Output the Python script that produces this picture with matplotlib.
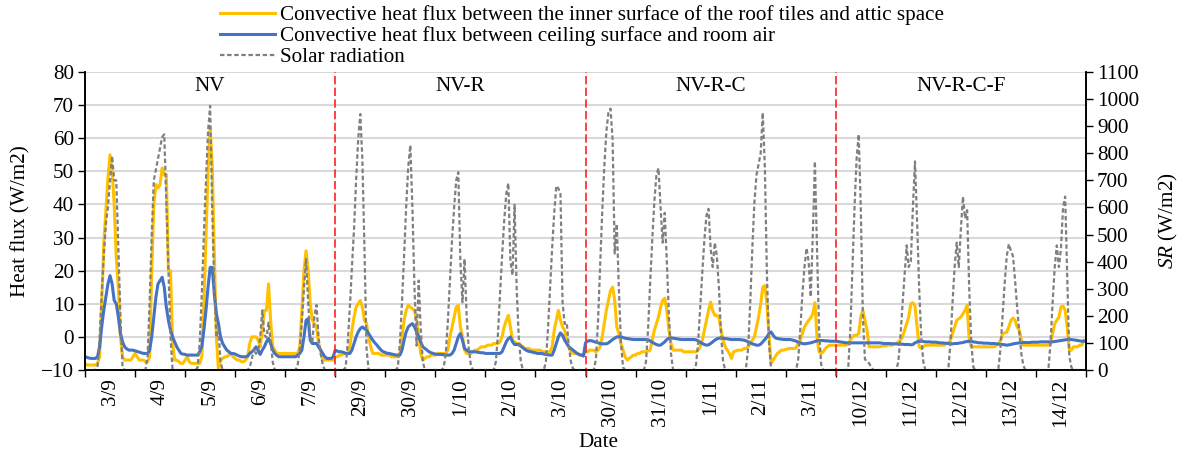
import numpy as np
import matplotlib.pyplot as plt
from matplotlib.ticker import FixedLocator

# day labels (x axis), one per 24 h block
dates = ['3/9', '4/9', '5/9', '6/9', '7/9',
         '29/9', '30/9', '1/10', '2/10', '3/10',
         '30/10', '31/10', '1/11', '2/11', '3/11',
         '10/12', '11/12', '12/12', '13/12', '14/12']
periods = ['NV', 'NV-R', 'NV-R-C', 'NV-R-C-F']

# hourly convective heat flux, roof tiles inner surface <-> attic (W/m2)
roof = [
    -8, -8.5, -8.5, -8.5, -8.5, -8.5, -8, -6, 10, 28, 38, 48, 55, 50, 40, 24, 15, 0, -6, -7, -7, -7, -7, -6,
    -5, -6, -7, -7, -7, -7.5, -7.5, -6, 20, 40, 46, 45, 46, 51, 49, 49, 20, 20, -2, -7, -7, -7.5, -8, -8,
    -7, -6, -7.5, -8, -8, -8, -8, -8, -6, 10, 30, 50, 63, 52, 25, 0, -10, -7, -6.5, -6, -6, -5.5, -5, -6,
    -6.5, -7, -7, -7.5, -7.5, -7, -6, -2, 0, 0, 0, -1, -3, 2, 8, 8, 16, 5, -3, -4, -5, -5, -5, -5,
    -5, -5, -5, -5, -5, -5, -5, -3, 8, 20, 26, 20, 10, 5, 4, 3, -2, -4, -7, -7, -7, -7, -7, -7,
    -6, -6, -5.5, -5.5, -5, -5, -5, -3, 2, 6, 9, 10, 11, 9, 5, 4, 0, -3, -5, -5, -5, -5, -5.5, -5.5,
    -5.5, -5.5, -5.5, -6, -6, -6, -6, -5, 0, 5, 8, 9.5, 9, 8.5, 8, 5, 0, -5, -7, -6.5, -6, -6, -5.5, -5.5,
    -5.5, -5, -5, -5, -5, -5, -4, 0, 3, 6, 9, 9.5, 3, 0, -4, -5, -5, -5, -4.5, -4, -4, -3.5, -3, -3,
    -3, -2.5, -2.5, -2.5, -2, -2, -2, -1.5, 0, 3, 5, 6.5, 3, -1, -1.5, -2, -2, -2.5, -3, -3.5, -3.5, -3.5, -4, -4,
    -4, -4, -4, -4.3, -4.5, -4.5, -4.5, -4.5, -3, 2, 5, 8, 5, 3, 2, -1, -3, -4.5, -5, -5, -5, -5.5, -5.5, -5.5,
    -4.5, -4.5, -4, -4, -4, -4.5, -4, -3, 0, 4, 8, 11, 14, 15, 11, 3, 1, -2, -4, -6, -7, -6.5, -6, -5.5,
    -5.5, -5, -5, -4.5, -4.5, -4.5, -4.3, -4, -1, 2, 4, 6, 9, 11, 11.7, 8, 2, -2, -4, -4, -4, -4, -4, -4.5,
    -4.5, -4.5, -4.5, -4.5, -4.5, -4.5, -4, -3, -1, 2, 5, 8, 10.5, 8, 6.5, 6.5, 6, 2, -1, -3, -4, -5, -6.5, -4.5,
    -4.3, -4, -4, -4, -3.5, -3.5, -3, -2, -1, 0, 3, 6, 10, 15, 15.5, 10, 0, -8, -7, -6, -5, -4.5, -4, -4,
    -3.8, -3.6, -3.5, -3.5, -3.5, -3.3, -2, -1, 1, 3, 4, 5, 5.7, 7, 10.3, 0, -4.5, -5, -4.5, -3.5, -3, -2.5, -2.5, -2.5,
    -2.5, -2.5, -2.5, -2.5, -2.5, -2.5, -2, -1, 0, 0.5, 0.5, 1, 6, 8, 5, 2, -3, -3, -3, -3, -3, -3, -2.8, -2.7,
    -2.7, -2.5, -2.5, -2.5, -2, -2, -1.5, -1, 0, 2, 4, 6, 10, 10.3, 9.3, 3, -3, -3.5, -3, -2.5, -2.5, -2.5, -2.5, -2.5,
    -2.5, -2.5, -2.5, -2.5, -2.5, -2, -2, -1, 1, 3, 5, 5.5, 6, 7, 8, 9.5, -1, -3, -3, -3, -3, -3, -3, -3,
    -3, -3, -3, -3, -3, -2.5, -2, -1, 1, 1.2, 1.4, 3, 5, 5.7, 5, 3, 2, -1, -2.5, -2.5, -2.5, -2.5, -2.5, -2.5,
    -2.5, -2.5, -2.5, -2.5, -2.5, -2.5, -2.5, -2, 1, 4, 5, 6, 9, 9.3, 8, 3, -4, -4, -3, -3, -3, -2.5, -2.5, -1,
]

# hourly convective heat flux, ceiling surface <-> room air (W/m2)
ceiling = [
    -6, -6.2, -6.4, -6.5, -6.5, -6.5, -6, -3, 3, 8, 12, 16, 18.5, 16, 11, 10, 6, 1, -1.5, -3, -3.6, -4, -4, -4,
    -4.2, -4.4, -4.6, -4.8, -5, -5, -5, -4, 0, 6, 12, 16, 17, 18, 15, 9, 5, 2, 0, -1.5, -3, -4, -5, -5.2,
    -5.3, -5.5, -5.5, -5.5, -5.5, -5.5, -5.5, -4.5, -3, 2, 8, 15, 21, 21, 13, 7, 4, 0, -2, -3, -4, -4.5, -5, -5,
    -5.2, -5.5, -5.8, -6, -6, -6, -5.8, -5, -4.5, -4, -3, -4, -5.3, -4, -3, -1.5, -0.5, -2, -4, -5, -5.6, -6, -6, -6,
    -6, -6, -6, -6, -6, -6, -5.5, -5, -4, 0, 5, 5.5, -1, -2, -2, -2, -3, -4, -5, -6, -6.5, -6.5, -6.5, -6,
    -4, -4.3, -4.5, -4.5, -4.7, -5, -5, -5, -4, -2, 0, 1.5, 2.5, 3, 2.5, 2, 1, 0, -1, -1.8, -2.5, -3.3, -4, -4.5,
    -4.7, -5, -5, -5.2, -5.3, -5.5, -5.5, -5.5, -4, -1, 1.5, 3, 3.6, 4, 3, 1.5, 0, -1.5, -3, -3.5, -4, -4.5, -4.8, -5,
    -5.2, -5.3, -5.3, -5.3, -5.4, -5.5, -5.5, -5.5, -5, -4, -2, 0, 1, -1, -3.5, -4, -4.4, -4.5, -4.5, -4.5, -4.6, -4.7, -4.8, -4.8,
    -5, -5, -5, -5, -5, -5, -5, -5, -4.5, -3, -1.5, -0.5, 0, -1.5, -2.3, -2.3, -2.3, -2.8, -3.3, -3.8, -4.2, -4.4, -4.5, -4.7,
    -4.8, -5, -5, -5, -5.2, -5.3, -5.4, -5.5, -5.5, -4, -2, 0, 1.2, 0.5, -1, -2, -3, -3.5, -4, -4.5, -5, -5.3, -5.5, -5.8,
    -1.8, -1.3, -1.1, -1.2, -1.4, -1.6, -1.8, -2, -2.1, -2.1, -2.1, -1.8, -1.3, -0.8, -0.4, 0, 0, 0, -0.2, -0.4, -0.5, -0.6, -0.7, -0.8,
    -0.8, -0.8, -0.8, -0.8, -0.8, -0.8, -0.9, -1.2, -1.6, -2, -2.3, -2.5, -2.5, -2, -1.5, -0.8, -0.4, -0.3, -0.4, -0.5, -0.6, -0.7, -0.8, -0.8,
    -0.8, -0.8, -0.8, -0.8, -0.8, -0.9, -1.2, -1.6, -2, -2.3, -2.5, -2.4, -2, -1.5, -1, -0.6, -0.4, -0.3, -0.4, -0.5, -0.6, -0.7, -0.8, -0.8,
    -0.8, -0.8, -0.8, -0.9, -1, -1.2, -1.5, -1.8, -2.1, -2.3, -2.5, -2.5, -2.2, -1.5, -0.8, 0, 1, 1.5, 0.5, -0.3, -0.5, -0.6, -0.7, -0.8,
    -0.8, -0.8, -0.8, -0.9, -1.1, -1.3, -1.6, -1.8, -2, -2.1, -2, -1.9, -1.8, -1.6, -1.4, -1.2, -1.1, -1.1, -1.1, -1.2, -1.2, -1.3, -1.3, -1.3,
    -1.3, -1.4, -1.5, -1.6, -1.7, -1.8, -1.8, -1.8, -1.8, -1.8, -1.8, -1.8, -1.8, -1.8, -1.8, -1.8, -1.8, -1.8, -1.8, -1.8, -1.8, -1.8, -1.9, -2,
    -2, -2, -2, -2.1, -2.1, -2.1, -2.2, -2.2, -2.2, -2.3, -2.3, -2.3, -2.4, -2.3, -1.8, -1.5, -1.3, -1.3, -1.4, -1.5, -1.5, -1.5, -1.6, -1.6,
    -1.6, -1.7, -1.8, -1.8, -1.9, -1.9, -2, -2.1, -2.1, -2, -2, -1.9, -1.8, -1.7, -1.5, -1.4, -1.3, -1.3, -1.5, -1.6, -1.7, -1.8, -1.8, -1.9,
    -1.9, -1.9, -2, -2, -2, -2.1, -2.2, -2.2, -2.3, -2.4, -2.5, -2.4, -2.3, -2.1, -2, -1.9, -1.8, -1.8, -1.7, -1.7, -1.7, -1.7, -1.6, -1.6,
    -1.6, -1.6, -1.5, -1.5, -1.5, -1.5, -1.5, -1.5, -1.5, -1.4, -1.3, -1.2, -1.1, -1, -0.9, -0.8, -0.8, -0.8, -0.9, -1, -1.1, -1.2, -1.3, -1.3,
]

# hourly solar radiation (W/m2)
solar = [
    0, 0, 0, 0, 0, 0, 10, 120, 280, 420, 540, 600, 700, 790, 700, 700, 450, 200, 10, 0, 0, 0, 0, 0,
    0, 0, 0, 0, 0, 0, 50, 250, 500, 700, 740, 780, 820, 860, 870, 620, 380, 120, 0, 0, 0, 0, 0, 0,
    0, 0, 0, 0, 0, 0, 10, 100, 280, 500, 700, 880, 975, 600, 300, 120, 150, 30, 0, 0, 0, 0, 0, 0,
    0, 0, 0, 0, 0, 0, 0, 10, 40, 80, 60, 70, 120, 220, 130, 120, 175, 110, 30, 0, 0, 0, 0, 0,
    0, 0, 0, 0, 0, 0, 20, 80, 180, 300, 410, 250, 120, 100, 200, 240, 120, 60, 20, 0, 0, 0, 0, 0,
    0, 0, 0, 0, 0, 10, 100, 230, 380, 520, 700, 850, 945, 780, 450, 80, 0, 0, 0, 0, 0, 0, 0, 0,
    0, 0, 0, 0, 0, 0, 10, 100, 250, 420, 600, 750, 830, 600, 300, 90, 330, 150, 30, 0, 0, 0, 0, 0,
    0, 0, 0, 0, 10, 60, 180, 330, 480, 600, 700, 730, 400, 250, 410, 200, 80, 20, 0, 0, 0, 0, 0, 0,
    0, 0, 0, 0, 0, 30, 130, 280, 420, 550, 650, 690, 400, 350, 610, 300, 120, 30, 0, 0, 0, 0, 0, 0,
    0, 0, 0, 0, 0, 30, 150, 300, 450, 580, 680, 670, 650, 250, 170, 175, 90, 30, 5, 0, 0, 0, 0, 0,
    0, 0, 0, 0, 0, 40, 180, 380, 580, 750, 880, 950, 965, 850, 430, 540, 300, 100, 10, 0, 0, 0, 0, 0,
    0, 0, 0, 0, 0, 30, 150, 320, 480, 620, 720, 745, 600, 470, 580, 400, 200, 60, 0, 0, 0, 0, 0, 0,
    0, 0, 0, 0, 0, 20, 100, 230, 360, 480, 570, 595, 450, 380, 470, 420, 300, 130, 30, 0, 0, 0, 0, 0,
    0, 0, 0, 0, 0, 10, 80, 250, 450, 620, 720, 760, 800, 950, 750, 350, 100, 0, 0, 0, 0, 0, 0, 0,
    0, 0, 0, 0, 0, 0, 40, 150, 280, 380, 450, 400, 270, 500, 770, 450, 150, 20, 0, 0, 0, 0, 0, 0,
    0, 0, 0, 0, 0, 0, 10, 150, 380, 600, 780, 870, 600, 200, 40, 30, 25, 10, 0, 0, 0, 0, 0, 0,
    0, 0, 0, 0, 0, 0, 30, 120, 240, 350, 460, 380, 400, 600, 770, 550, 300, 120, 30, 0, 0, 0, 0, 0,
    0, 0, 0, 0, 0, 0, 5, 100, 250, 380, 470, 380, 520, 640, 560, 590, 300, 100, 10, 0, 0, 0, 0, 0,
    0, 0, 0, 0, 0, 0, 5, 80, 200, 320, 420, 465, 440, 420, 330, 230, 140, 60, 15, 0, 0, 0, 0, 0,
    0, 0, 0, 0, 0, 0, 5, 100, 250, 380, 460, 380, 450, 600, 640, 350, 50, 10, 0, 0, 0, 0, 0, 0,
]

plt.rcParams['font.family'] = 'Liberation Serif'
plt.rcParams['font.size'] = 15.2
plt.rcParams['mathtext.fontset'] = 'custom'
plt.rcParams['mathtext.rm'] = 'Liberation Serif'
plt.rcParams['mathtext.it'] = 'Liberation Serif:italic'

hours = np.arange(len(roof))
ndays = len(dates)

fig = plt.figure(figsize=(11.82, 4.54), dpi=100)
ax = fig.add_axes([85 / 1182, 1 - 370 / 454, 1001 / 1182, 298 / 454])

l1, = ax.plot(hours, roof, color='#FFC000', lw=2.2,
              label='Convective heat flux between the inner surface of the roof tiles and attic space')
l2, = ax.plot(hours, ceiling, color='#4472C4', lw=2.2,
              label='Convective heat flux between ceiling surface and room air')

ax2 = ax.twinx()
l3, = ax2.plot(hours, solar, color='#7F7F7F', lw=1.6, ls=(0, (2, 1.2)), label='Solar radiation')

ax.set_xlim(0, 24 * ndays)
ax.set_ylim(-10, 80)
ax.set_yticks(np.arange(-10, 81, 10))
ax2.set_ylim(0, 1100)
ax2.set_yticks(np.arange(0, 1101, 100))

# tick marks at day boundaries, labels centred on each day
ax.set_xticks(np.arange(0, 24 * ndays + 1, 24))
ax.set_xticklabels([])
ax.xaxis.set_minor_locator(FixedLocator(np.arange(12, 24 * ndays, 24)))
ax.set_xticklabels(dates, minor=True, rotation=90)
ax.tick_params(axis='x', which='major', direction='out', length=5, width=1)
ax.tick_params(axis='x', which='minor', length=0, pad=6)
ax.tick_params(axis='y', direction='out', length=5, width=1, pad=3)
ax2.tick_params(axis='y', direction='out', length=5, width=1, pad=3)

ax.yaxis.grid(True, color='#D9D9D9', lw=1.5)
ax.set_axisbelow(True)
for a in (ax, ax2):
    a.spines['top'].set_visible(False)
    for s in ('left', 'right', 'bottom'):
        a.spines[s].set_linewidth(1.2)

# period separators and names
for k in range(1, len(periods)):
    ax.axvline(k * 24 * ndays / len(periods), ymin=-0.02, ymax=1, color='#FF2020',
               lw=1.2, ls=(0, (5, 2)), clip_on=False)
for k, p in enumerate(periods):
    ax.text((k + 0.5) * 24 * ndays / len(periods), 75.5, p, ha='center', va='center')

ax.set_ylabel('Heat flux (W/m2)')
ax.yaxis.set_label_coords(-0.054, 0.5)
ax2.set_ylabel(r'$\mathit{SR}$ (W/m2)')
ax2.yaxis.set_label_coords(1.071, 0.5)
ax.set_xlabel('Date')
ax.xaxis.set_label_coords(0.5125, -0.21)

fig.legend([l1, l2, l3], [l1.get_label(), l2.get_label(), l3.get_label()],
           loc='upper left', bbox_to_anchor=(220 / 1182, 0.988), frameon=False,
           handlelength=2.6, handletextpad=0.24, labelspacing=0.05,
           borderpad=0, borderaxespad=0)

fig.savefig('out.png', dpi=100)
